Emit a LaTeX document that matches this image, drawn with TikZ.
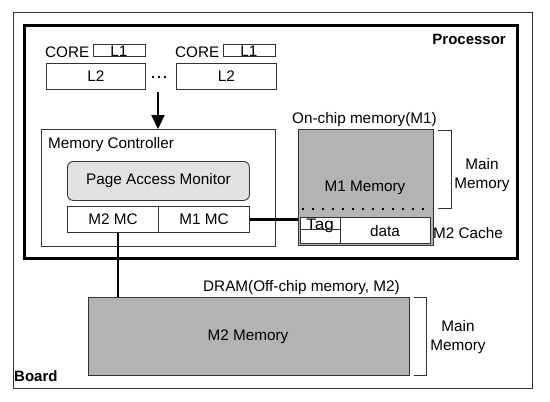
\documentclass[tikz,border=0pt]{standalone}
\usepackage{fontspec}
\setmainfont{Liberation Sans}
\usetikzlibrary{arrows.meta}
\definecolor{edge}{HTML}{333333}
\definecolor{memgray}{HTML}{B3B3B3}
\definecolor{pamgray}{HTML}{E2E2E2}
\begin{document}
\begin{tikzpicture}[x=1pt,y=-1pt,
  every node/.style={font=\fontsize{15.3}{17}\selectfont, inner sep=0pt},
  box/.style={draw=edge, line width=0.9pt, anchor=north west, fill=white},
  memfill/.style={box, fill=memgray},
  lbl/.style={anchor=base west},
  wire/.style={draw=black, line width=2.2pt},
  brace/.style={draw=edge, line width=1pt}]
\useasboundingbox (0,0) rectangle (550,402);
% board and processor
\node[draw=edge, line width=1.3pt, anchor=north west, minimum width=519pt, minimum height=376pt] (board) at (13,12) {};
\node[draw=black, line width=2.5pt, anchor=north west, minimum width=493pt, minimum height=233pt] (proc) at (23,24) {};
\node[anchor=base east, font=\fontsize{15}{17}\selectfont\bfseries] (proclbl) at (506,44) {Processor};
\node[lbl, font=\fontsize{15}{17}\selectfont\bfseries] (boardlbl) at (14,381) {Board};
% cores
\node[lbl] (core1) at (45,57) {CORE};
\node[box, minimum width=52pt, minimum height=12pt] (l1a) at (93,44) {};
\node (l1atext) at (119,51.5) {L1};
\node[box, minimum width=99pt, minimum height=26pt] (l2a) at (46,63) {L2};
\node[lbl] (core2) at (175,57) {CORE};
\node[box, minimum width=52pt, minimum height=12pt] (l1b) at (223,44) {};
\node (l1btext) at (249,51.5) {L1};
\node[box, minimum width=100pt, minimum height=26pt] (l2b) at (176,63) {L2};
\foreach \i/\xx in {1/153,2/159,3/165} \fill (\xx,77) circle (1.3pt);
\coordinate (arrstart) at (158,92);
% memory controller
\node[box, minimum width=234pt, minimum height=117pt] (mc) at (41,129) {};
\node[lbl] (mclbl) at (48,148) {Memory Controller};
\node[box, fill=pamgray, rounded corners=6pt, minimum width=182pt, minimum height=39pt] (pam) at (67,161) {Page Access Monitor};
\node[box, minimum width=91pt, minimum height=26pt] (m2mc) at (67,206) {M2 MC};
\node[box, minimum width=91pt, minimum height=26pt] (m1mc) at (158,206) {M1 MC};
\draw[wire, -{Triangle[width=13pt,length=14pt]}] (arrstart) -- (arrstart |- mc.north);
% on-chip memory
\node[lbl] (onchip) at (292,123) {On-chip memory(M1)};
\node[memfill, minimum width=135pt, minimum height=116pt] (m1mem) at (298,129) {};
\node (m1text) at (365,188) {M1 Memory};
\draw[line width=2.4pt, dash pattern=on 2.4pt off 7.6pt] (302,209) -- (432,209);
\node[box, minimum width=130pt, minimum height=26pt] (cache) at (300,217) {};
\node[box, minimum width=40pt, minimum height=26pt] (tagcol) at (300,217) {};
\node[anchor=base, xscale=1.12] (tag) at (320,229) {Tag};
\draw[draw=edge, line width=0.9pt] (tagcol.west |- 0,229) -- (tagcol.east |- 0,229);
\node (data) at (385,231) {data};
\node[anchor=west] (m2cache) at (433,233) {M2 Cache};
\draw[brace] (438,130) -- (451,130) -- (451,208) -- (438,208);
\node[align=center, font=\fontsize{15.3}{19}\selectfont] (mm1) at (482,175) {Main\\Memory};
% off-chip
\node[lbl] (dram) at (203,291) {DRAM(Off-chip memory, M2)};
\node[memfill, minimum width=321pt, minimum height=78pt] (m2mem) at (88,297) {};
\node (m2text) at (248,337) {M2 Memory};
\draw[brace] (414,297) -- (426,297) -- (426,375) -- (414,375);
\node[align=center, font=\fontsize{15.3}{19}\selectfont] (mm2) at (458,337) {Main\\Memory};
% wires
\draw[wire] (m1mc.east) -- (m1mc.east -| m1mem.west);
\draw[wire] (m2mc.south -| 118,0) -- (m2mem.north -| 118,0);
\end{tikzpicture}
\end{document}
